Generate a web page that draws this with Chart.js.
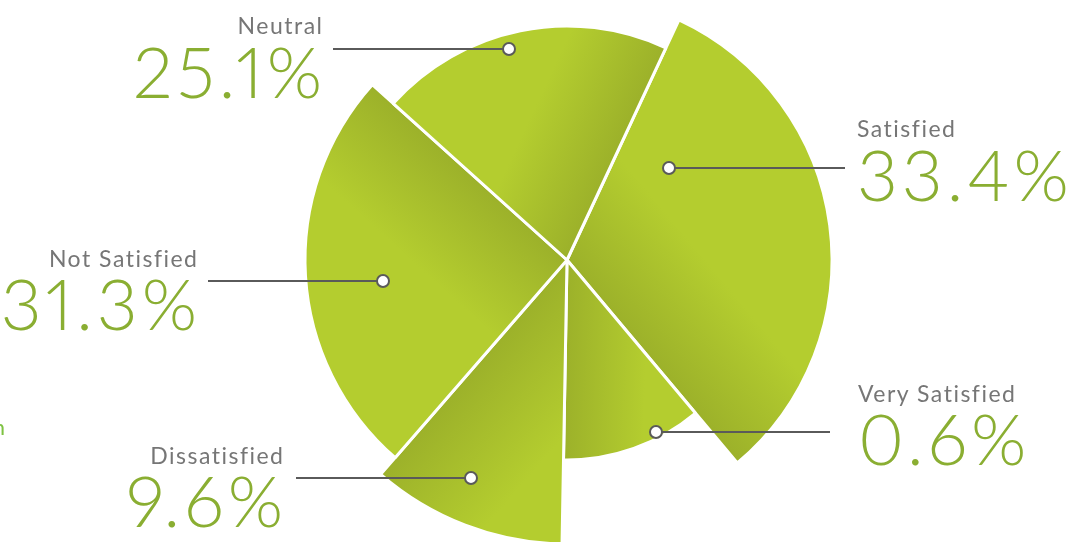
<!DOCTYPE html>
<html>
<head>
<meta charset="utf-8">
<script src="https://cdn.jsdelivr.net/npm/chart.js@4/dist/chart.umd.min.js"></script>
<style>
  html, body { margin: 0; padding: 0; background: #fff; }
  #wrap { position: relative; width: 1077px; height: 542px; overflow: hidden; }
  #chart { position: absolute; left: 0; top: 0; }
  .lbl { position: absolute; white-space: nowrap; font-family: 'Lato', sans-serif; line-height: 1; }
  .name { color: #767676; font-weight: 400; letter-spacing: 1.5px; }
  .pct { color: #8aae32; font-weight: 300; letter-spacing: 4px; font-variant-numeric: proportional-nums; }
  .bit { color: #7ec242; font-weight: 400; }
</style>
</head>
<body>
<div id="wrap">
  <canvas id="chart" width="1077" height="542"></canvas>
</div>
<script>
const categories = ['Satisfied', 'Very Satisfied', 'Dissatisfied', 'Not Satisfied', 'Neutral'];
const percentages = [33.4, 0.6, 9.6, 31.3, 25.1];
// the picture does not size the slices by share, so angle and reach are read off it
const sliceAngles = [115, 41, 40, 91, 73];
const sliceReach = [265, 200, 284, 262, 234];

const startAngle = 25;
const light = 'rgb(180,205,47)';
const dark = 'rgb(156,177,42)';

// where the text and leader of each slice sit
const callouts = [
  { side: 'left', x: 857, nameBase: 137, pctBase: 201, line: [669, 845, 168] },
  { side: 'left', x: 858, nameBase: 402, pctBase: 465, line: [656, 830, 432] },
  { side: 'right', x: 283, nameBase: 464, pctBase: 527, line: [296, 471, 478] },
  { side: 'right', x: 197, nameBase: 267, pctBase: 330, line: [208, 383, 281] },
  { side: 'right', x: 322, nameBase: 34, pctBase: 98, line: [333, 509, 49] }
];

// shade each slice darker along its closing edge
function sliceFill(c) {
  const chart = c.chart;
  const r = chart.scales.r;
  if (!r || r.xCenter == null) return light;
  let a = startAngle;
  for (let i = 0; i <= c.dataIndex; i++) a += sliceAngles[i];
  const t = (a - 180) * Math.PI / 180;
  const d = sliceReach[c.dataIndex] * 0.4;
  const g = chart.ctx.createLinearGradient(r.xCenter, r.yCenter,
    r.xCenter + d * Math.cos(t), r.yCenter + d * Math.sin(t));
  g.addColorStop(0, dark);
  g.addColorStop(1, light);
  return g;
}

const leaders = {
  id: 'leaders',
  afterDatasetsDraw(chart) {
    const ctx = chart.ctx;
    ctx.save();
    ctx.strokeStyle = '#5a5a5a';
    ctx.lineWidth = 2;
    callouts.forEach(c => {
      const [x1, x2, y] = c.line;
      ctx.beginPath();
      ctx.moveTo(x1, y);
      ctx.lineTo(x2, y);
      ctx.stroke();
      const dotX = c.side === 'left' ? x1 : x2;
      ctx.beginPath();
      ctx.arc(dotX, y, 6, 0, Math.PI * 2);
      ctx.fillStyle = '#fff';
      ctx.fill();
      ctx.stroke();
    });
    ctx.restore();
  }
};

new Chart(document.getElementById('chart'), {
  type: 'polarArea',
  data: {
    labels: categories,
    datasets: [{
      data: sliceReach,
      angle: sliceAngles,
      backgroundColor: sliceFill,
      borderColor: '#fff',
      borderWidth: 3,
      clip: false
    }]
  },
  options: {
    responsive: false,
    animation: false,
    layout: { padding: { left: 307, right: 250, top: 0, bottom: 22 } },
    scales: {
      r: { display: false, min: 0, max: 260, startAngle: startAngle }
    },
    plugins: {
      legend: { display: false },
      tooltip: { enabled: false }
    }
  },
  plugins: [leaders]
});

const wrap = document.getElementById('wrap');
function addText(text, cls, size, c, base, ls) {
  const d = document.createElement('div');
  d.className = 'lbl ' + cls;
  d.textContent = text;
  d.style.fontSize = size + 'px';
  d.style.top = (base - 0.887 * size) + 'px';
  if (c.side === 'left') d.style.left = c.x + 'px';
  else d.style.right = (1077 - c.x - ls) + 'px';
  wrap.appendChild(d);
}
callouts.forEach((c, i) => {
  addText(categories[i], 'name', 23, c, c.nameBase, 1.5);
  addText(percentages[i].toFixed(1) + '%', 'pct', 71, c, c.pctBase, 4);
});
// cut-off letter at the left edge of the picture
addText('n', 'bit', 22, { side: 'right', x: 5 }, 436, 0);
</script>
</body>
</html>
